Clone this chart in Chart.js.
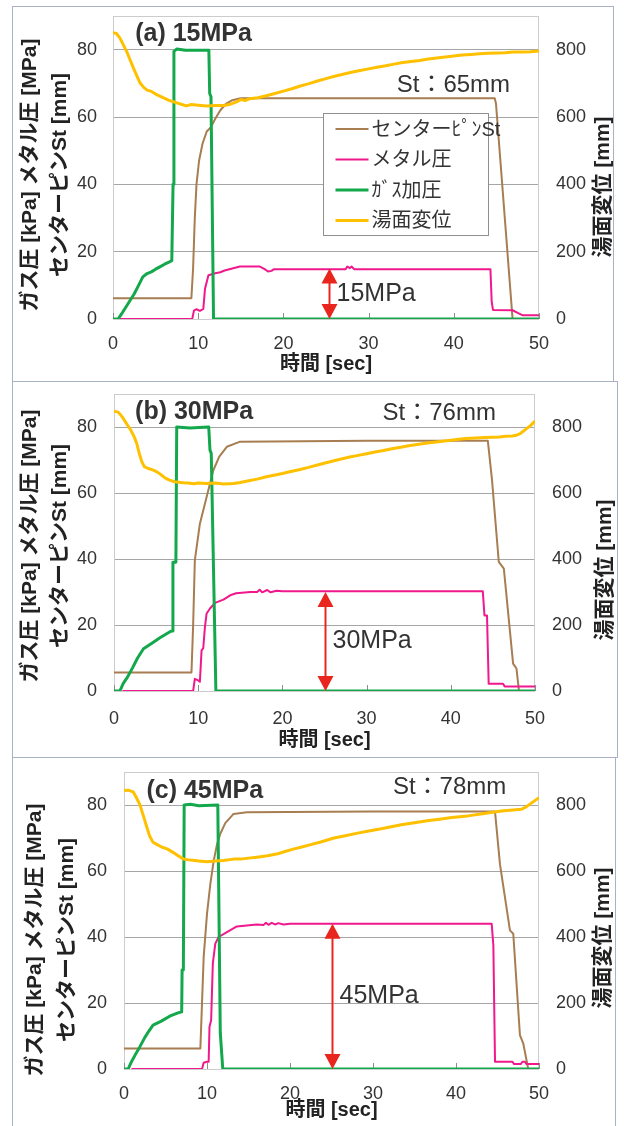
<!DOCTYPE html>
<html lang="ja">
<head>
<meta charset="utf-8">
<title>メタル圧とセンターピンSt</title>
<script src="https://cdn.jsdelivr.net/npm/chart.js@4.4.1/dist/chart.umd.min.js"></script>
<style>
  html, body { margin: 0; padding: 0; background: #fff; }
  body { width: 624px; height: 1126px; position: relative; overflow: hidden; }
  .panel { position: absolute; box-sizing: border-box; border: 1px solid #a9b1c4; background: #fff; }
  .panel canvas { display: block; }
</style>
</head>
<body>
<div class="panel" style="left:12px;top:6px;width:602px;height:376px"><canvas id="chartA" width="600" height="374"></canvas></div>
<div class="panel" style="left:12px;top:381px;width:606px;height:377px"><canvas id="chartB" width="604" height="375"></canvas></div>
<div class="panel" style="left:12px;top:757px;width:604px;height:370px"><canvas id="chartC" width="602" height="368"></canvas></div>

<script>
// axes
const timeRange = [0, 50];
const timeStep = 10;
const pressRange = [0, 90];
const pressStep = 20;
const pressLastTick = 80;
const levelRange = [0, 900];
const levelStep = 200;
const levelLastTick = 800;

const seriesNames = ['センターﾋﾟﾝSt', 'メタル圧', 'ｶﾞｽ加圧', '湯面変位'];
const seriesColors = ['#a87d52', '#f0188c', '#13a84b', '#ffc000'];
const panelTitles = ['(a) 15MPa', '(b) 30MPa', '(c) 45MPa'];
const strokeLabels = ['St：65mm', 'St：76mm', 'St：78mm'];
const pressureLabels = ['15MPa', '30MPa', '45MPa'];
const arrowTops = [15, 30, 44];      // MPa
const arrowTimes = [25.4, 25, 25.1]; // sec

// (a) 15MPa : [time sec, value]
const pinA = [[0,6.2],[9.2,6.2],[9.4,15],[9.6,30],[9.8,40],[10.1,47],[10.5,52],[11.0,55.7],[11.5,57],[12.0,59.5],[12.6,62],[13.3,64],[14.0,65],[15,65.6],[30,65.6],[44.8,65.6],[44.95,64],[46.9,0],[50,0]];
const metalA = [[0.8,0],[9.3,0],[9.5,2.5],[9.8,2.9],[10.2,2.4],[10.6,3.0],[10.8,9],[11.0,11],[11.2,13],[12.0,13.6],[12.6,13.9],[13.1,14.4],[14.0,15.0],[14.9,15.6],[17.2,15.6],[17.8,14.8],[18.2,14.1],[18.6,14.3],[18.9,14.8],[27.3,14.8],[27.5,15.6],[27.8,15.1],[28.0,15.6],[28.3,14.8],[44.3,14.8],[44.45,5],[44.6,2.7],[46.9,2.6],[47.5,1.8],[48.1,1.1],[50,1.1]];
const gasA = [[0,0],[0.6,0],[1.0,1.5],[1.5,3.5],[2.0,5.5],[2.5,7.5],[3.0,10],[3.5,12.5],[4.0,13.5],[4.5,14],[5.0,14.8],[5.5,15.5],[6.0,16.2],[6.5,16.8],[6.9,17.3],[7.05,40],[7.15,79.5],[7.5,80.2],[8.5,79.8],[10,79.8],[11.25,79.8],[11.35,67],[11.5,66],[11.8,0],[50,0]];
const levelA = [[0,850],[0.4,848],[0.8,835],[1.2,815],[1.6,795],[2.0,770],[2.4,745],[2.8,722],[3.2,700],[3.6,688],[4.0,680],[4.5,676],[5.0,668],[5.5,662],[6.0,656],[6.5,650],[7.0,646],[7.5,642],[8.0,638],[8.6,633],[9.2,637],[10,635],[11,633],[12,634],[13,634],[13.8,638],[14.5,645],[15,652],[15.5,649],[16,654],[17,657],[18,663],[19,670],[20,677],[21,684],[22,692],[23,699],[24,707],[25,714],[26,721],[27,727],[28,733],[29,738],[30,743],[31,748],[32,752],[33,757],[34,762],[35,765],[36,768],[37,772],[38,775],[39,778],[40,781],[41,784],[42,786],[43,788],[44,789],[45,790],[46,791],[47,793],[48,793],[49,794],[50,796]];

// (b) 30MPa
const pinB = [[0,5.6],[9.2,5.6],[9.4,20],[9.6,39.6],[10.2,50.7],[11.0,58.8],[11.8,66.9],[12.5,71],[13.4,74],[14.9,75.5],[30,75.8],[44.4,75.8],[44.9,63.8],[45.7,39.1],[46.3,37.1],[47.4,8.3],[47.8,6.8],[48.1,0],[50,0]];
const metalB = [[1.0,0],[9.4,0],[9.6,3.7],[10.0,3.2],[10.2,2.8],[10.4,12.3],[10.6,13],[10.8,19.4],[11.0,23.5],[11.4,25],[12.0,26.7],[13.0,27.7],[13.8,29],[14.5,29.6],[16.2,30],[17.0,30],[17.3,30.7],[17.6,29.9],[18.2,30.6],[18.6,29.9],[19.3,30.4],[20,30.2],[43.8,30.2],[44.0,22.9],[44.3,22.9],[44.5,2.2],[46.2,2.2],[46.4,1.4],[50,1.4]];
const gasB = [[0,0],[0.7,0],[1.1,2.3],[1.6,4.2],[2.2,7],[2.8,10],[3.5,12.8],[4.5,14.5],[5.5,16.2],[6.6,17.9],[6.9,18.2],[7.0,39],[7.35,39],[7.45,80],[9,79.7],[11.25,80],[11.4,73],[11.55,72],[12.1,0],[50,0]];
const levelB = [[0,848],[0.5,845],[1.0,830],[1.5,810],[2.0,790],[2.4,770],[2.7,750],[3.0,720],[3.3,695],[3.6,680],[4.0,675],[4.6,670],[5.1,664],[5.6,655],[6.1,645],[6.6,639],[7.2,634],[8.2,631],[8.8,630],[9.5,628],[10,630],[11,629],[12,630],[13,627],[14.2,629],[15,632],[16,637],[17,642],[18.1,649],[19,654],[20,659],[21,665],[22.1,671],[23,677],[24.5,687],[26,697],[27,703],[28,709],[29,714],[30,719],[31,724],[32,729],[33,734],[33.9,738],[35,743],[36,747],[37,751],[38,754],[39,757],[40,760],[41,763],[41.8,765],[43,767],[44,768],[45,769],[45.8,770],[46.5,772],[47.3,773],[47.8,775],[48.3,781],[49,795],[49.5,805],[50,818]];

// (c) 45MPa
const pinC = [[0,6.2],[9.2,6.2],[9.4,20],[9.6,34],[10.0,47],[10.4,56],[10.8,63],[11.2,68],[11.6,71.3],[12.2,74.5],[13.2,77.3],[14.8,77.8],[30,78],[44.7,78],[45.3,62],[46.5,42],[46.9,41],[47.7,10.3],[48.1,7.8],[48.7,0],[50,0]];
const metalC = [[0.9,0],[9.4,0],[9.6,1.9],[10.0,2.2],[10.2,2.2],[10.3,12.8],[10.5,14.8],[10.7,31.9],[11.0,38],[11.4,40],[12.4,41.5],[13.6,43.2],[16.0,43.8],[16.8,43.6],[17.1,44.3],[17.4,43.7],[17.8,44.3],[18.2,43.8],[18.6,44.2],[19.2,43.8],[20,44],[44.3,44],[44.5,37.5],[44.7,2.2],[46.8,2.2],[47.0,1.5],[47.8,1.5],[48.0,2.2],[48.3,2.2],[48.5,1.5],[50,1.5]];
const gasC = [[0,0],[0.5,0],[0.9,2.2],[1.4,4.5],[1.9,6.7],[2.5,9.5],[3.0,11.5],[3.5,13.3],[4.5,14.5],[5.5,16],[6.5,17],[6.95,17.3],[7.0,30],[7.15,30],[7.25,80],[8,80.2],[9,79.8],[11.3,80],[11.6,11],[11.9,0],[50,0]];
const levelC = [[0,844],[0.5,845],[1.1,840],[1.5,822],[1.9,802],[2.3,770],[2.7,737],[3.1,705],[3.5,687],[4.0,680],[4.6,672],[5.2,667],[6.0,655],[6.6,645],[7.2,636],[8,633],[9,630],[10,628],[11,630],[12,632],[13.2,636],[14,636],[15,639],[16,642],[17.3,646],[18.5,652],[19.5,660],[20.5,667],[21.3,672],[22.5,680],[23.7,688],[25.3,700],[26.5,706],[28,714],[29.5,721],[31,728],[32.2,734],[33.4,740],[35,746],[36.5,752],[38,757],[39.5,762],[41.4,767],[43,773],[44.2,777],[45.5,782],[46.5,784],[47.9,787],[48.5,795],[49.2,808],[50,822]];

const FONT = "'Liberation Sans', 'Noto Sans CJK JP', sans-serif";
const TEXT = '#333333';
Chart.defaults.font.family = FONT;

const toXY = arr => arr.map(p => ({ x: p[0], y: p[1] }));

function drawUpright(ctx, text, x, y) {
  ctx.save();
  ctx.translate(x, y);
  ctx.rotate(-Math.PI / 2);
  ctx.textAlign = 'center';
  ctx.textBaseline = 'middle';
  ctx.fillText(text, 0, 0);
  ctx.restore();
}

// plot frame, inner ticks, labels, arrow and legend
const panelDecor = {
  id: 'panelDecor',
  beforeDatasetsDraw(chart, args, o) {
    const { ctx, chartArea: a, scales: { x } } = chart;
    ctx.save();
    ctx.strokeStyle = '#cccccc';
    ctx.lineWidth = 1;
    ctx.strokeRect(a.left + 0.5, a.top + 0.5, a.width - 1, a.height);
    ctx.strokeStyle = '#8c8c8c';
    ctx.beginPath();
    x.ticks.forEach(t => {
      const px = Math.round(x.getPixelForValue(t.value)) + 0.5;
      ctx.moveTo(px, a.bottom);
      ctx.lineTo(px, a.bottom - 6);
    });
    ctx.stroke();
    ctx.restore();
  },
  afterDatasetsDraw(chart, args, o) {
    const { ctx, chartArea: a, scales: { x, y } } = chart;
    ctx.save();
    ctx.fillStyle = TEXT;
    ctx.textBaseline = 'middle';
    ctx.textAlign = 'left';

    ctx.font = 'bold 25px ' + FONT;
    ctx.fillText(o.title, x.getPixelForValue(o.titleAt[0]), y.getPixelForValue(o.titleAt[1]));
    ctx.font = '24px ' + FONT;
    ctx.fillText(o.stroke, x.getPixelForValue(o.strokeAt[0]), y.getPixelForValue(o.strokeAt[1]));

    // double arrow for metal pressure
    const ax = Math.round(x.getPixelForValue(o.arrowX)) + 0.5;
    const yb = y.getPixelForValue(0);
    const yt = y.getPixelForValue(o.arrowTop);
    const hh = 15, hw = 8;
    ctx.strokeStyle = '#e8261e';
    ctx.fillStyle = '#e8261e';
    ctx.lineWidth = 2;
    ctx.beginPath();
    ctx.moveTo(ax, yt + hh - 2);
    ctx.lineTo(ax, yb - hh + 2);
    ctx.stroke();
    ctx.beginPath();
    ctx.moveTo(ax, yt); ctx.lineTo(ax - hw, yt + hh); ctx.lineTo(ax + hw, yt + hh); ctx.closePath();
    ctx.moveTo(ax, yb); ctx.lineTo(ax - hw, yb - hh); ctx.lineTo(ax + hw, yb - hh); ctx.closePath();
    ctx.fill();
    ctx.fillStyle = TEXT;
    ctx.font = '25px ' + FONT;
    ctx.fillText(o.pressure, ax + 7, (yb + yt) / 2);

    if (o.legend) {
      const L = o.legend;
      const bx = Math.round(a.left + L.dx) + 0.5, by = Math.round(a.top + L.dy) + 0.5;
      ctx.fillStyle = '#fff';
      ctx.fillRect(bx, by, L.w, L.h);
      ctx.strokeStyle = '#8f8f8f';
      ctx.lineWidth = 1;
      ctx.strokeRect(bx, by, L.w, L.h);
      ctx.font = '20px ' + FONT;
      chart.data.datasets.forEach((ds, i) => {
        const ry = by + 15.5 + i * 30.5;
        ctx.strokeStyle = ds.borderColor;
        ctx.lineWidth = ds.borderWidth;
        ctx.beginPath();
        ctx.moveTo(bx + 12, ry);
        ctx.lineTo(bx + 45, ry);
        ctx.stroke();
        ctx.fillStyle = TEXT;
        ctx.fillText(ds.label, bx + 48, ry + 1);
      });
    }

    // vertical axis titles
    ctx.fillStyle = '#222';
    ctx.font = 'bold 21px ' + FONT;
    drawUpright(ctx, 'ガス圧 [kPa] メタル圧 [MPa]', o.leftTitle[0], o.leftTitle[2]);
    drawUpright(ctx, 'センターピンSt [mm]', o.leftTitle[1], o.leftTitle[2]);
    drawUpright(ctx, '湯面変位 [mm]', o.rightTitle[0], o.rightTitle[1]);
    ctx.restore();
  }
};

function fixBox(size, horizontal) {
  return scale => {
    if (horizontal) scale.height = size; else scale.width = size;
    scale.paddingTop = scale.paddingBottom = scale.paddingLeft = scale.paddingRight = 0;
  };
}

const dropTicksAbove = last => scale => {
  scale.ticks = scale.ticks.filter(t => t.value <= last);
};

function makeChart(id, i, series, lay) {
  const [pin, metal, gas, level] = series;
  const lines = [pin, metal, gas, level].map((d, k) => ({
    label: seriesNames[k],
    data: toXY(d),
    borderColor: seriesColors[k],
    borderWidth: k >= 2 ? 3 : 2,
    pointRadius: 0,
    tension: 0,
    borderJoinStyle: 'round',
    yAxisID: k === 3 ? 'y1' : 'y',
    order: 4 - k
  }));
  return new Chart(document.getElementById(id), {
    type: 'line',
    data: { datasets: lines },
    options: {
      responsive: false,
      animation: false,
      layout: { padding: { top: lay.top, left: 0, right: 0, bottom: 0 } },
      plugins: {
        legend: { display: false },
        tooltip: { enabled: false },
        panelDecor: {
          title: panelTitles[i], titleAt: lay.titleAt,
          stroke: strokeLabels[i], strokeAt: lay.strokeAt,
          pressure: pressureLabels[i], arrowTop: arrowTops[i], arrowX: arrowTimes[i],
          legend: lay.legend, leftTitle: lay.leftTitle, rightTitle: lay.rightTitle
        }
      },
      scales: {
        x: {
          type: 'linear', min: timeRange[0], max: timeRange[1],
          ticks: { stepSize: timeStep, color: TEXT, font: { size: 18 }, padding: lay.xPad, maxRotation: 0 },
          grid: { display: false },
          border: { display: false },
          title: { display: true, text: '時間 [sec]', color: '#222', font: { size: 20, weight: 'bold' }, padding: { top: 0, bottom: lay.xTitlePad } },
          afterFit: fixBox(lay.xH, true)
        },
        y: {
          position: 'left', min: pressRange[0], max: pressRange[1], bounds: 'data',
          ticks: { stepSize: pressStep, color: TEXT, font: { size: 18 }, padding: lay.yPad },
          grid: { color: '#a6a6a6', drawTicks: false },
          border: { display: false },
          afterBuildTicks: dropTicksAbove(pressLastTick),
          afterFit: fixBox(lay.yW, false)
        },
        y1: {
          position: 'right', min: levelRange[0], max: levelRange[1], bounds: 'data',
          ticks: { stepSize: levelStep, color: TEXT, font: { size: 18 }, padding: 17 },
          grid: { display: false, drawTicks: false },
          border: { display: false },
          afterBuildTicks: dropTicksAbove(levelLastTick),
          afterFit: fixBox(lay.y1W, false)
        }
      }
    },
    plugins: [panelDecor]
  });
}

makeChart('chartA', 0, [pinA, metalA, gasA, levelA], {
  top: 9, yW: 100, y1W: 74, xH: 62, xPad: 6, yPad: 16, xTitlePad: 5,
  titleAt: [2.6, 84.5], strokeAt: [33.3, 69.3],
  legend: { dx: 210, dy: 97, w: 165, h: 122 },
  leftTitle: [17, 47, 168], rightTitle: [590, 180]
});
makeChart('chartB', 1, [pinB, metalB, gasB, levelB], {
  top: 12, yW: 101, y1W: 82, xH: 66, xPad: 9, yPad: 17, xTitlePad: 5,
  titleAt: [2.5, 84.5], strokeAt: [31.9, 84],
  leftTitle: [17, 47, 164], rightTitle: [592, 188]
});
makeChart('chartC', 2, [pinC, metalC, gasC, levelC], {
  top: 14, yW: 111, y1W: 76, xH: 57, xPad: 6, yPad: 17, xTitlePad: 4,
  titleAt: [2.7, 84.3], strokeAt: [32.4, 85.3],
  leftTitle: [22, 54, 182], rightTitle: [590, 180]
});
</script>
</body>
</html>
